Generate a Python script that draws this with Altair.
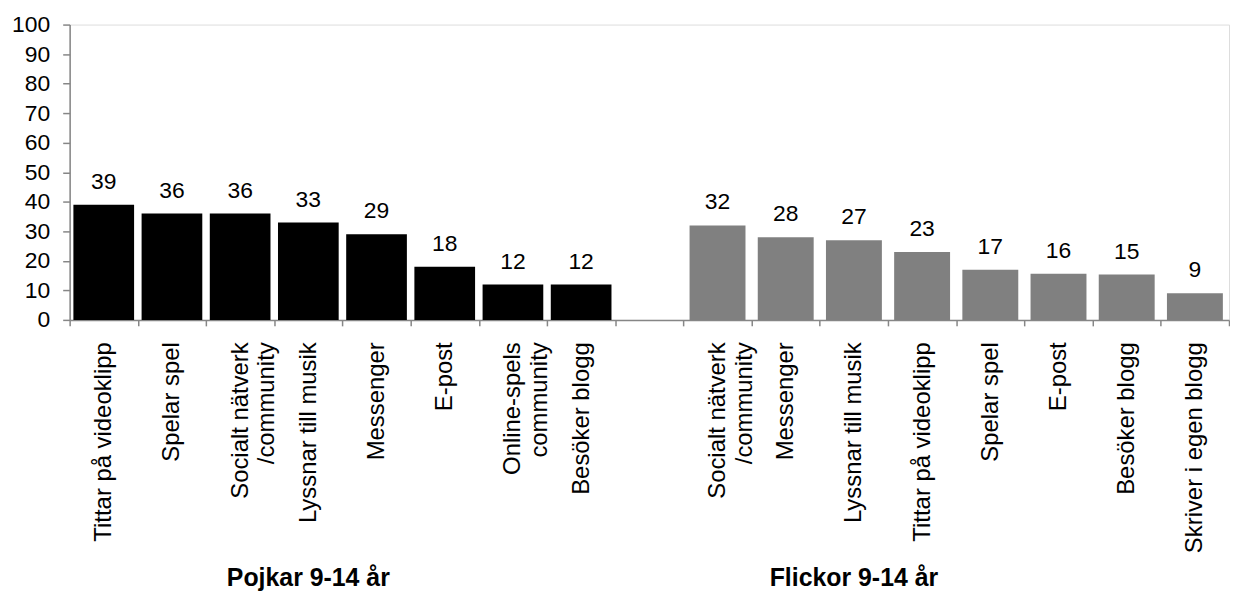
import json
import altair as alt
import pandas as pd

# ---- data ----
groups = ["Pojkar 9-14 år", "Flickor 9-14 år"]
group_colors = ["#000000", "#808080"]

boys_labels = ["Tittar på videoklipp", "Spelar spel", "Socialt nätverk|/community",
               "Lyssnar till musik", "Messenger", "E-post", "Online-spels|community",
               "Besöker blogg"]
boys_values = [39, 36, 36, 33, 29, 18, 12, 12]

girls_labels = ["Socialt nätverk|/community", "Messenger", "Lyssnar till musik",
                "Tittar på videoklipp", "Spelar spel", "E-post", "Besöker blogg",
                "Skriver i egen blogg"]
girls_values = [32, 28, 27, 23, 17, 15.6, 15.4, 9]

y_ticks = list(range(0, 101, 10))

# ---- build table ----
boys_keys = [f"P{i}" for i in range(len(boys_labels))]
girls_keys = [f"F{i}" for i in range(len(girls_labels))]
gap_key = "G"
keys = boys_keys + [gap_key] + girls_keys
label_lines = [l.split("|") for l in boys_labels] + [[""]] + [l.split("|") for l in girls_labels]

rows = []
for k, v in zip(boys_keys, boys_values):
    rows.append({"key": k, "value": v, "group": groups[0]})
for k, v in zip(girls_keys, girls_values):
    rows.append({"key": k, "value": v, "group": groups[1]})
df = pd.DataFrame(rows)

titles = pd.DataFrame({"key": ["P3", "F2"], "text": groups})

label_expr = f"{json.dumps(label_lines, ensure_ascii=False)}[indexof({json.dumps(keys)}, datum.value)]"

FONT = "Liberation Sans"
AXIS_GRAY = "#868686"

x_axis = alt.Axis(
    title=None,
    labelAngle=270,
    labelAlign="right",
    labelBaseline="middle",
    labelExpr=label_expr,
    labelFont=FONT,
    labelFontSize=24,
    labelColor="#000000",
    labelLineHeight=27,
    labelPadding=16,
    labelLimit=500,
    labelOverlap=False,
    labelBound=False,
    labelFlush=False,
    tickBand="extent",
    tickSize=6,
    tickColor=AXIS_GRAY,
    domainColor=AXIS_GRAY,
    domainWidth=1.5,
    tickWidth=1.5,
)
x_scale = alt.Scale(domain=keys, paddingInner=0, paddingOuter=0)

y_axis = alt.Axis(
    title=None,
    values=y_ticks,
    grid=False,
    labelFont=FONT,
    labelFontSize=23,
    labelColor="#000000",
    labelPadding=13,
    labelOverlap=False,
    labelBound=False,
    labelFlush=False,
    tickSize=7,
    tickColor=AXIS_GRAY,
    domainColor=AXIS_GRAY,
    domainWidth=1.5,
    tickWidth=1.5,
)
y_scale = alt.Scale(domain=[0, 100], nice=False)


def xe():
    return alt.X("key:N", sort=keys, scale=x_scale, axis=x_axis)


def ye():
    return alt.Y("value:Q", scale=y_scale, axis=y_axis)


color_enc = alt.Color("group:N", scale=alt.Scale(domain=groups, range=group_colors), legend=None)

boys_bars = alt.Chart(df).transform_filter(
    alt.datum.group == groups[0]
).mark_bar(width=alt.RelativeBandSize(0.89)).encode(x=xe(), y=ye(), color=color_enc)

girls_bars = alt.Chart(df).transform_filter(
    alt.datum.group == groups[1]
).mark_bar(width=alt.RelativeBandSize(0.82)).encode(x=xe(), y=ye(), color=color_enc)

labels = alt.Chart(df).mark_text(
    font=FONT, fontSize=23, color="#000000", baseline="alphabetic", dy=-16
).encode(
    x=xe(),
    y=ye(),
    text=alt.Text("value:Q", format=".0f"),
)

group_titles = alt.Chart(titles).mark_text(
    font=FONT, fontSize=25, fontWeight="bold", color="#000000", baseline="alphabetic"
).encode(
    x=xe(),
    y=alt.value(565),
    text="text:N",
)

chart = (
    alt.layer(boys_bars, girls_bars, labels, group_titles)
    .properties(
        width=1166,
        height=297,
        padding={"left": 3, "top": 4, "right": 0, "bottom": 0},
    )
    .configure_view(stroke=None)
    .configure(background="#ffffff")
)

chart.save("out.html", embed_options={"renderer": "svg", "actions": False})
